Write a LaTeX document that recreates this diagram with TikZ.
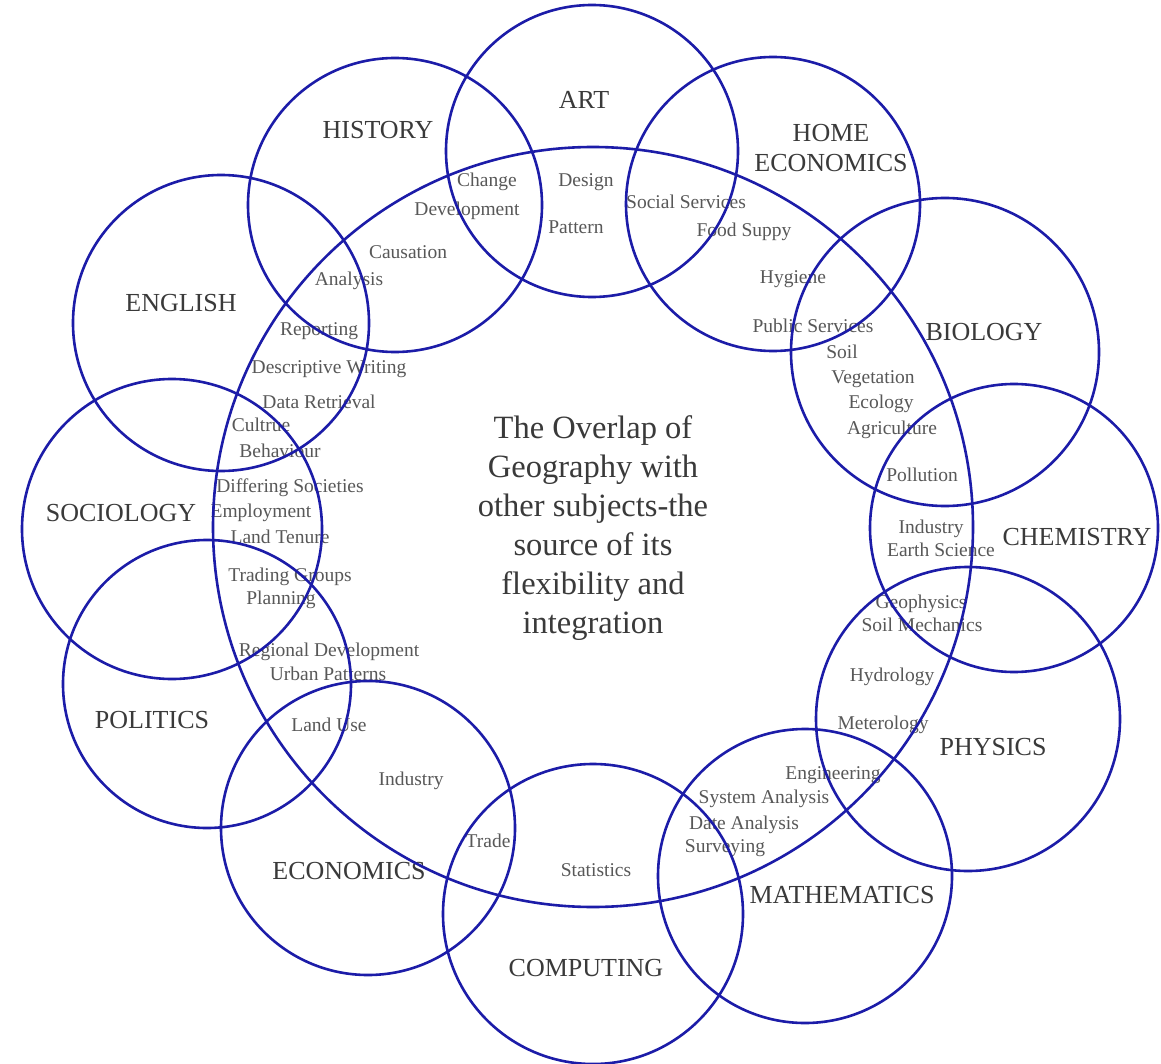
\documentclass[tikz,border=0pt]{standalone}
\usepackage{fontspec}
\setmainfont{Liberation Serif}
\definecolor{ringblue}{RGB}{28,28,168}
\definecolor{bigtxt}{RGB}{58,58,58}
\definecolor{smalltxt}{RGB}{88,88,88}
\begin{document}
\begin{tikzpicture}[x=1pt,y=-1pt,
  ring/.style={draw=ringblue,line width=2.6pt},
  subj/.style={font=\fontsize{26}{30}\selectfont, text=bigtxt, anchor=base, inner sep=0pt, align=center},
  topic/.style={font=\fontsize{19.5}{22}\selectfont, text=smalltxt, anchor=base, inner sep=0pt},
  title/.style={font=\fontsize{32.5}{39}\selectfont, text=bigtxt, align=center, inner sep=0pt}]
\useasboundingbox (0,0) rectangle (1161,1064);
\fill[white] (0,0) rectangle (1161,1064);

% central title
\node[title] (title) at (593,528) {The Overlap of\\Geography with\\other subjects-the\\source of its\\flexibility and\\integration};

% subject labels
\node[subj] (lart) at (584,108.5) {ART};
\node[subj] (lhist) at (378,138.5) {HISTORY};
\node[subj,anchor=center] (lhome) at (831,148) {HOME\\ECONOMICS};
\node[subj] (leng) at (181,311.5) {ENGLISH};
\node[subj] (lsoc) at (121,521.5) {SOCIOLOGY};
\node[subj] (lpol) at (152,728.5) {POLITICS};
\node[subj] (lecon) at (349,879.5) {ECONOMICS};
\node[subj] (lcomp) at (586,976.5) {COMPUTING};
\node[subj] (lmath) at (842,903.5) {MATHEMATICS};
\node[subj] (lphys) at (993,755.5) {PHYSICS};
\node[subj] (lchem) at (1077,545.5) {CHEMISTRY};
\node[subj] (lbio) at (984,340.5) {BIOLOGY};

% overlap topics
\node[topic] (t1) at (487,187) {Change};
\node[topic] (t2) at (467,216) {Development};
\node[topic] (t3) at (586,187) {Design};
\node[topic] (t4) at (576,234) {Pattern};
\node[topic] (t5) at (686,209) {Social Services};
\node[topic] (t6) at (744,237) {Food Suppy};
\node[topic] (t7) at (793,284) {Hygiene};
\node[topic] (t8) at (813,333) {Public Services};
\node[topic] (t9) at (842,359) {Soil};
\node[topic] (t10) at (873,383) {Vegetation};
\node[topic] (t11) at (881,408) {Ecology};
\node[topic] (t12) at (892,434) {Agriculture};
\node[topic] (t13) at (922,481) {Pollution};
\node[topic] (t14) at (931,533) {Industry};
\node[topic] (t15) at (941,556) {Earth Science};
\node[topic] (t16) at (921,608) {Geophysics};
\node[topic] (t17) at (922,631) {Soil Mechanics};
\node[topic] (t18) at (892,681) {Hydrology};
\node[topic] (t19) at (883,729) {Meterology};
\node[topic] (t20) at (833,779) {Engineering};
\node[topic] (t21) at (764,803) {System Analysis};
\node[topic] (t22) at (744,829) {Date Analysis};
\node[topic] (t23) at (725,852) {Surveying};
\node[topic] (t24) at (596,876) {Statistics};
\node[topic] (t25) at (488,847) {Trade};
\node[topic] (t26) at (411,785) {Industry};
\node[topic] (t27) at (329,731) {Land Use};
\node[topic] (t28) at (328,680) {Urban Patterns};
\node[topic] (t29) at (329,656) {Regional Development};
\node[topic] (t30) at (281,604) {Planning};
\node[topic] (t31) at (290,581) {Trading Groups};
\node[topic] (t32) at (280,543) {Land Tenure};
\node[topic] (t33) at (261,517) {Employment};
\node[topic] (t34) at (290,492) {Differing Societies};
\node[topic] (t35) at (280,457) {Behaviour};
\node[topic] (t36) at (261,431) {Cultrue};
\node[topic] (t37) at (319,408) {Data Retrieval};
\node[topic] (t38) at (329,373) {Descriptive Writing};
\node[topic] (t39) at (319,335) {Reporting};
\node[topic] (t40) at (349,286) {Analysis};
\node[topic] (t41) at (408,259) {Causation};

% geography (large) circle
\draw[ring] (593,527) circle[radius=380];

% subject circles
\draw[ring] (592,151) circle[radius=146];  % art
\draw[ring] (773,204) circle[radius=147];  % home economics
\draw[ring] (945,352) circle[radius=154];  % biology
\draw[ring] (1014,528) circle[radius=144]; % chemistry
\draw[ring] (968,719) circle[radius=152];  % physics
\draw[ring] (805,876) circle[radius=147];  % mathematics
\draw[ring] (593,914) circle[radius=150];  % computing
\draw[ring] (368,828) circle[radius=147];  % economics
\draw[ring] (207,684) circle[radius=144];  % politics
\draw[ring] (172,529) circle[radius=150];  % sociology
\draw[ring] (221,323) circle[radius=148];  % english
\draw[ring] (395,205) circle[radius=147];  % history
\end{tikzpicture}
\end{document}
